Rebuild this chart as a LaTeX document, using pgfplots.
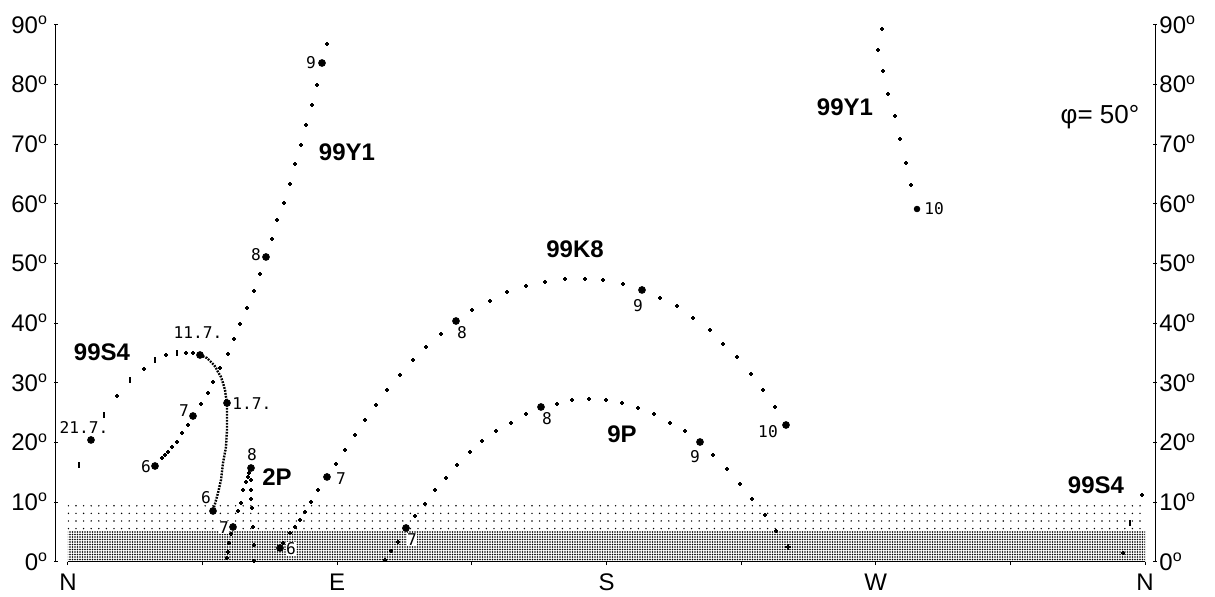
\documentclass[border=0pt]{standalone}
\usepackage{pgfplots}
\pgfplotsset{compat=1.18}
\usepackage{fontspec}
\setmainfont{Liberation Sans}
\newfontfamily\smallmono{DejaVu Sans Mono}
\usetikzlibrary{patterns.meta}
\newcommand\dg{\smash{\textsuperscript{o}}}
\tikzset{
  lab/.style={font=\fontsize{12}{14}\selectfont\bfseries, inner sep=0pt},
  sm/.style={font=\smallmono\fontsize{8.1}{9}\selectfont, inner sep=0.3pt, fill=white},
}
\pgfplotsset{
  pt/.style={only marks, mark=+, mark size=1pt, line width=0.6pt, black},
  big/.style={only marks, mark=*, mark size=1.7pt, black},
  tail/.style={only marks, mark=|, mark size=1.4pt, line width=0.6pt, black},
  common/.style={scale only axis, width=549.5pt, height=268.5pt,
    xmin=-4.01, xmax=363.34, ymin=0, ymax=90, clip=false,
    ytick={0,10,...,90},
    yticklabels={0\dg,10\dg,20\dg,30\dg,40\dg,50\dg,60\dg,70\dg,80\dg,90\dg},
    tick label style={font=\fontsize{12}{14}\selectfont},
    major tick length=1.6pt, tick style={black, line width=0.5pt},
    ytick align=inside},
}
\begin{document}
\begin{tikzpicture}
\useasboundingbox (-28pt,-17.5pt) rectangle (579.5pt,281pt);
% right y axis
\begin{axis}[common, hide x axis, axis y line=right,
  y axis line style={-, black, line width=0.5pt},
  yticklabel style={anchor=west, inner sep=0pt, xshift=1.2pt}]
\end{axis}
% main axis
\begin{axis}[common, axis x line=bottom, axis y line=left,
  y axis line style={-, black, line width=0.5pt},
  x axis line style={draw=none},
  xtick={0,45,...,360}, xticklabels={N,,E,,S,,W,,N},
  xtick align=outside,
  xticklabel style={anchor=north, inner sep=0pt, yshift=-4pt},
  yticklabel style={anchor=east, inner sep=0pt, xshift=-3pt}]
% horizon bands
\addplot[draw=none, pattern={Dots[distance=1.25pt, radius=0.42pt]}, pattern color=black]
  coordinates {(0,0) (360,0) (360,5.1) (0,5.1)};
\addplot[draw=none, pattern={Dots[distance=3.8pt, radius=0.4pt]}, pattern color=black]
  coordinates {(0,5.1) (360,5.1) (360,9.6) (0,9.6)};
\addplot[black, line width=0.5pt, no marks] coordinates {(0,0) (360,0)};

% 99Y1
\addplot[pt] coordinates {(31.42,17.43)(32.42,17.93)(33.43,18.44)(34.76,19.27)(36.43,20.11)(38.11,21.62)(40.11,22.96)(44.46,26.48)(46.80,28.32)(48.47,30.17)(50.81,32.51)(53.48,34.86)(55.49,37.37)(57.49,39.89)(59.83,42.57)(62.17,45.42)(64.18,48.27)(68.19,54.13)(69.86,57.32)(72.20,60.17)(74.21,63.35)(75.88,66.70)(77.88,69.89)(79.55,73.24)(81.56,76.59)(83.23,79.94)(86.57,86.82)};
\addplot[big] coordinates {(29.08,16.09)(41.78,24.47)(66.18,51.12)(84.90,83.63)};
\addplot[pt] coordinates {(272.09,89.33)(270.75,85.81)(272.43,82.29)(274.09,78.44)(276.43,74.75)(278.10,70.89)(280.11,66.87)(281.78,63.18)};
\addplot[big, mark size=1.4pt] coordinates {(283.79,59.16)};

% 99K8
\addplot[pt] coordinates {(71.87,3.18)(74.21,4.86)(75.88,5.87)(77.55,7.04)(79.22,8.38)(81.22,10.06)(83.56,12.07)(89.58,16.42)(92.59,18.77)(95.93,21.28)(99.27,23.80)(102.95,26.31)(106.63,28.83)(110.97,31.34)(115.32,33.85)(119.66,36.03)(124.68,38.21)(135.04,42.23)(141.06,43.74)(146.74,45.25)(153.09,46.26)(159.44,46.93)(166.13,47.43)(172.81,47.43)(178.83,47.26)(185.51,46.59)(197.88,44.25)(203.56,42.91)(208.91,40.89)(214.59,38.88)(218.94,36.54)(223.61,34.36)(228.30,31.51)(232.31,28.83)(236.32,25.98)};
\addplot[big] coordinates {(70.86,2.35)(86.57,14.25)(129.69,40.39)(191.86,45.59)(240.00,22.96)};

% 9P
\addplot[pt] coordinates {(105.96,0.34)(107.97,1.84)(110.31,3.35)(115.99,7.71)(119.33,9.72)(122.67,12.07)(126.35,14.08)(130.03,16.26)(134.37,18.44)(138.38,20.28)(143.06,21.96)(148.08,23.30)(153.09,24.80)(163.45,26.48)(168.47,27.15)(174.15,27.32)(179.83,27.15)(185.18,26.65)(190.53,25.81)(195.88,24.80)(201.22,23.30)(206.23,21.96)(215.59,17.93)(220.27,15.59)(224.62,13.07)(228.63,10.56)(232.98,7.88)(236.66,5.20)};
\addplot[pt, mark size=1.4pt] coordinates {(240.67,2.51)};
\addplot[big] coordinates {(112.98,5.70)(158.10,25.98)(211.25,20.11)};

% 2P
\addplot[pt] coordinates {(53.15,0.67)(53.48,1.68)(53.82,3.18)(54.48,4.69)(56.82,8.55)(57.83,9.89)(58.50,12.07)(59.50,13.41)(60.17,14.25)(60.50,14.92)};
\addplot[pt] coordinates {(61.17,13.74)(61.17,12.07)(61.17,10.56)(61.50,9.05)(61.84,5.87)(62.17,2.85)(62.17,0.15)};
\addplot[big] coordinates {(55.15,5.87)(61.17,15.75)};

% 99S4
\addplot[black, line width=1.2pt, dash pattern=on 0.9pt off 0.6pt, no marks] coordinates {(44.12,34.69)(46.46,34.19)(47.80,33.52)(48.80,33.02)(49.47,32.51)(50.14,31.84)(51.14,31.01)(51.81,30.00)(52.48,28.83)(52.81,27.65)(53.15,26.65)(53.15,24.30)(53.15,22.12)(52.81,19.27)(51.81,16.59)(51.14,13.74)(50.14,11.56)(48.47,8.55)};
\addplot[pt] coordinates {(41.78,35.03)(39.44,35.03)(32.76,34.69)(25.40,32.35)(16.38,27.82)(358.99,11.23)(352.64,1.51)};
\addplot[tail] coordinates {(36.43,35.03)(29.08,33.85)(20.72,30.50)(12.03,24.64)(3.68,16.26)(354.98,6.54)};
\addplot[big] coordinates {(44.12,34.69)(7.69,20.45)(53.15,26.65)(48.47,8.55)};

% labels
\node[lab] at (axis cs:93.26,68.72) {99Y1};
\node[lab] at (axis cs:259.72,76.26) {99Y1};
\node[lab] at (axis cs:169.47,52.46) {99K8};
\node[lab] at (axis cs:185.18,21.45) {9P};
\node[lab] at (axis cs:69.86,14.25) {2P};
\node[lab] at (axis cs:11.36,35.20) {99S4};
\node[lab] at (axis cs:343.62,12.91) {99S4};
\node[font=\fontsize{13}{15}\selectfont, inner sep=0pt] at (axis cs:344.96,74.58) {φ= 50°};

\node[sm] at (axis cs:81.22,83.63) {9};
\node[sm] at (axis cs:62.84,51.45) {8};
\node[sm] at (axis cs:38.77,25.31) {7};
\node[sm] at (axis cs:26.07,15.92) {6};
\node[sm, fill=none] at (axis cs:43.45,38.38) {11.7.};
\node[sm, fill=none] at (axis cs:61.50,26.48) {1.7.};
\node[sm, fill=none] at (axis cs:5.35,22.46) {21.7.};
\node[sm] at (axis cs:46.13,10.73) {6};
\node[sm] at (axis cs:52.14,5.70) {7};
\node[sm] at (axis cs:61.50,17.93) {8};
\node[sm] at (axis cs:74.54,2.18) {6};
\node[sm] at (axis cs:91.25,13.91) {7};
\node[sm] at (axis cs:114.98,3.69) {7};
\node[sm] at (axis cs:131.70,38.38) {8};
\node[sm] at (axis cs:190.53,42.91) {9};
\node[sm] at (axis cs:233.98,21.79) {10};
\node[sm] at (axis cs:160.11,23.97) {8};
\node[sm] at (axis cs:209.58,17.60) {9};
\node[sm] at (axis cs:289.47,59.16) {10};
\end{axis}
\end{tikzpicture}
\end{document}
